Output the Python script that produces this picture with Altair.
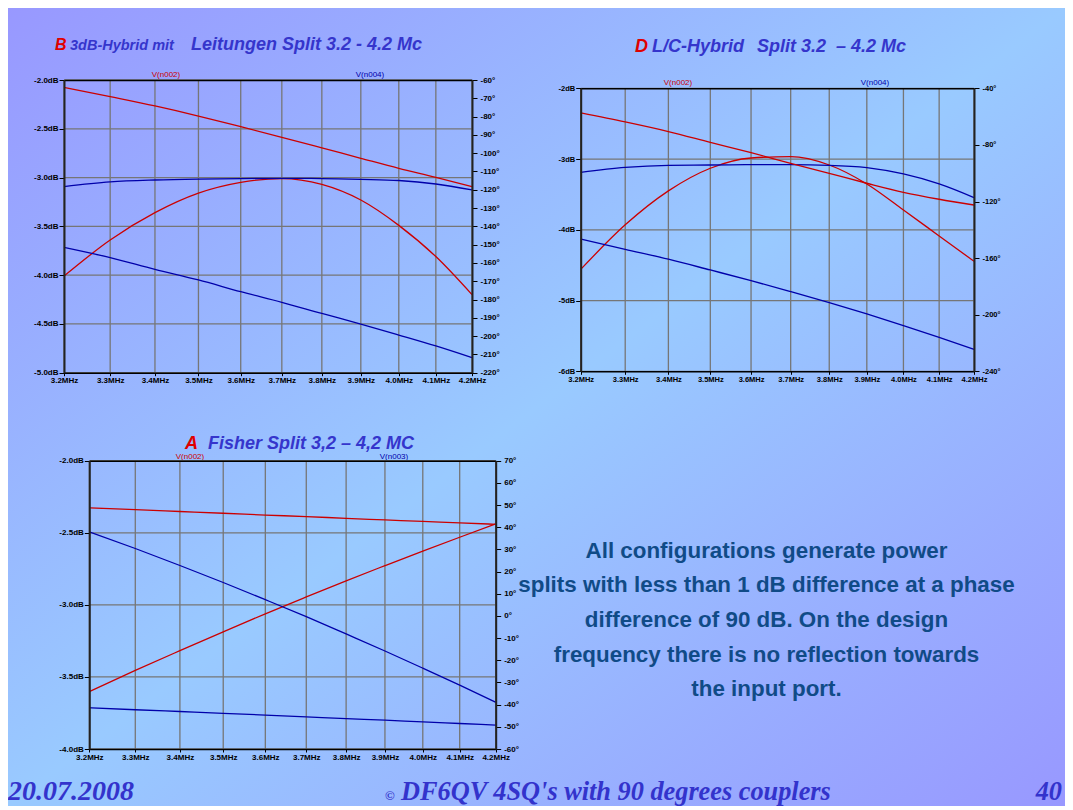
import altair as alt
import pandas as pd

W, H = 1057, 798

# ---------------- data ----------------
FREQ = [3.2, 3.3, 3.4, 3.5, 3.6, 3.7, 3.8, 3.9, 4.0, 4.1, 4.2]

# Panel B : 3dB-Hybrid mit Leitungen
B_N002_DB = [-4.01, -3.64, -3.36, -3.16, -3.05, -3.01, -3.07, -3.23, -3.49, -3.81, -4.20]
B_N004_DB = [-3.093, -3.045, -3.025, -3.015, -3.01, -3.008, -3.01, -3.018, -3.03, -3.066, -3.127]
B_N002_DEG = [-64.0, -69.1, -74.2, -79.7, -85.5, -91.3, -97.1, -102.8, -108.3, -113.2, -118.3]
B_N004_DEG = [-151.5, -157.1, -163.5, -169.3, -175.7, -181.5, -187.6, -193.4, -199.4, -205.4, -211.8]

# Panel D : L/C-Hybrid
D_N002_DB = [-4.56, -3.93, -3.45, -3.13, -2.985, -2.966, -3.084, -3.352, -3.72, -4.087, -4.445]
D_N004_DB = [-3.187, -3.117, -3.088, -3.084, -3.079, -3.079, -3.088, -3.121, -3.211, -3.352, -3.545]
D_N002_DEG = [-57.4, -63.8, -70.6, -78.2, -85.5, -93.0, -100.1, -107.1, -113.5, -118.4, -122.5]
D_N004_DEG = [-146.5, -153.8, -160.8, -168.4, -175.9, -183.7, -191.5, -199.5, -207.7, -216.0, -224.5]

# Panel A : Fisher
A_N002_DB = [-3.602, -3.455, -3.318, -3.187, -3.062, -2.945, -2.833, -2.728, -2.627, -2.531, -2.439]
A_N003_DB = [-2.493, -2.609, -2.727, -2.845, -2.964, -3.082, -3.202, -3.32, -3.439, -3.557, -3.676]
A_N002_DEG = [48.7, 47.9, 47.1, 46.3, 45.5, 44.8, 44.0, 43.3, 42.6, 42.0, 41.3]
A_N003_DEG = [-41.4, -42.3, -43.1, -43.9, -44.7, -45.5, -46.3, -47.0, -47.8, -48.5, -49.2]

B_DB_TICKS = [-2.0, -2.5, -3.0, -3.5, -4.0, -4.5, -5.0]
B_DEG_TICKS = list(range(-60, -221, -10))
D_DB_TICKS = [-2, -3, -4, -5, -6]
D_DEG_TICKS = list(range(-40, -241, -40))
A_DB_TICKS = [-2.0, -2.5, -3.0, -3.5, -4.0]
A_DEG_TICKS = list(range(70, -61, -10))

TITLE_B = ["B", "3dB-Hybrid mit", "Leitungen Split 3.2 - 4.2 Mc"]
TITLE_D = ["D", "L/C-Hybrid", "Split 3.2\u00a0 \u2013 4.2 Mc"]
TITLE_A = ["A", "Fisher Split 3,2 \u2013 4,2 MC"]
PARA = ["All configurations generate power",
        "splits with less than 1 dB difference at a phase",
        "difference of 90 dB. On the design",
        "frequency there is no reflection towards",
        "the input port."]
FOOTER = ["20.07.2008", "\u00a9", "DF6QV 4SQ's with 90 degrees couplers", "40"]

# ---------------- styling ----------------
FONT = "Liberation Sans"
SERIF = "Liberation Serif"
RED, BLUE = "#cc0000", "#0000aa"
TRED, TBLUE = "#e00000", "#3535cc"
GRID = "#767676"
ONE = pd.DataFrame({"k": [0]})

color_scale = alt.Scale(domain=["V(n002)", "V(n003)", "V(n004)"], range=[RED, BLUE, BLUE])


def long(series):
    rows = []
    for name, vals in series.items():
        for f, v in zip(FREQ, vals):
            rows.append({"f": f, "v": v, "s": name})
    return pd.DataFrame(rows)


def fmt(spec, suffix):
    return "replace(format(datum.value,'%s'),'\u2212','-')+'%s'" % (spec, suffix)


def panel(box, db_dom, db_ticks, db_fmt, deg_dom, deg_ticks, mag, ph, fs):
    x0, x1, yt, yb = box
    xs = alt.Scale(type="log", domain=[3.2, 4.2], range=[x0, x1], nice=False)
    sdb = alt.Scale(domain=db_dom, range=[yb, yt], nice=False, zero=False)
    sdeg = alt.Scale(domain=deg_dom, range=[yb, yt], nice=False, zero=False)
    lab = dict(labelFont=FONT, labelFontWeight="bold", labelFontSize=fs, labelColor="black",
               title=None, zindex=1, labelOverlap=False, labelFlush=False, grid=False)
    ax_bottom = alt.Axis(orient="bottom", offset=yb - H, values=FREQ,
                         labelExpr=fmt(".1f", "MHz"),
                         domainColor="black", domainWidth=1.6, tickColor="black",
                         tickSize=3, tickWidth=1, labelPadding=1, **lab)
    ax_top = alt.Axis(orient="top", offset=-yt, labels=False, ticks=False,
                      domainColor="black", domainWidth=1.6, grid=False, title=None, zindex=1)
    ax_left = alt.Axis(orient="left", offset=-x0, values=db_ticks,
                       labelExpr=fmt(db_fmt, "dB"),
                       domainColor="#222222", domainWidth=2, tickColor="black",
                       tickSize=5, tickWidth=1, labelPadding=1, **lab)
    ax_right = alt.Axis(orient="right", offset=x1 - W, values=deg_ticks,
                        labelExpr=fmt("d", "\u00b0"),
                        domainColor="#222222", domainWidth=2, tickColor="black",
                        tickSize=5, tickWidth=1, labelPadding=3, **lab)
    vgrid = alt.Chart(pd.DataFrame({"f": FREQ})).mark_rule(color=GRID, strokeWidth=1.3).encode(
        x=alt.X("f:Q", scale=xs, axis=None),
        y=alt.YDatum(db_dom[0], type="quantitative", scale=sdb, axis=None),
        y2=alt.Y2Datum(db_dom[1]),
    )
    hgrid = alt.Chart(pd.DataFrame({"v": db_ticks})).mark_rule(color=GRID, strokeWidth=1.3).encode(
        y=alt.Y("v:Q", scale=sdb, axis=None),
        x=alt.XDatum(3.2, type="quantitative", scale=xs, axis=None),
        x2=alt.X2Datum(4.2),
    )
    mag_c = alt.Chart(mag).mark_line(strokeWidth=1.3, interpolate="monotone").encode(
        x=alt.X("f:Q", scale=xs, axis=ax_bottom),
        y=alt.Y("v:Q", scale=sdb, axis=ax_left),
        color=alt.Color("s:N", scale=color_scale, legend=None),
    )
    ph_c = alt.Chart(ph).mark_line(strokeWidth=1.3, interpolate="monotone").encode(
        x=alt.X("f:Q", scale=xs, axis=ax_top),
        y=alt.Y("v:Q", scale=sdeg, axis=ax_right),
        color=alt.Color("s:N", scale=color_scale, legend=None),
    )
    return alt.layer(vgrid, hgrid, mag_c, ph_c).resolve_scale(y="independent").resolve_axis(
        x="independent", y="independent")


def txt(text, x, y, size, color, font=FONT, weight="bold", style="normal", align="left",
        baseline="alphabetic", **kw):
    return alt.Chart(ONE).mark_text(text=text, font=font, fontSize=size, color=color,
                                    fontWeight=weight, fontStyle=style, align=align,
                                    baseline=baseline, **kw).encode(
        x=alt.value(x), y=alt.value(y))


pB = panel((56, 464, 72, 364.7), [-5, -2], B_DB_TICKS, ".1f", [-220, -60], B_DEG_TICKS,
           long({"V(n002)": B_N002_DB, "V(n004)": B_N004_DB}),
           long({"V(n002)": B_N002_DEG, "V(n004)": B_N004_DEG}), 8)
pD = panel((572.7, 966, 80.3, 363.3), [-6, -2], D_DB_TICKS, ".0f", [-240, -40], D_DEG_TICKS,
           long({"V(n002)": D_N002_DB, "V(n004)": D_N004_DB}),
           long({"V(n002)": D_N002_DEG, "V(n004)": D_N004_DEG}), 7.5)
pA = panel((81.3, 487.7, 452.7, 741), [-4, -2], A_DB_TICKS, ".1f", [-60, 70], A_DEG_TICKS,
           long({"V(n002)": A_N002_DB, "V(n003)": A_N003_DB}),
           long({"V(n002)": A_N002_DEG, "V(n003)": A_N003_DEG}), 8)

grad = alt.LinearGradient(
    gradient="linear",
    stops=[alt.GradientStop(color="#9898ff", offset=0),
           alt.GradientStop(color="#99caff", offset=0.5),
           alt.GradientStop(color="#9898ff", offset=1)],
    x1=0, y1=0, x2=1, y2=1)
bg = alt.Chart(ONE).mark_rect(fill=grad, strokeWidth=0).encode(
    x=alt.value(0), x2=alt.value(W), y=alt.value(0), y2=alt.value(H))

texts = [
    txt(TITLE_B[0], 47, 42, 16, TRED, style="italic"),
    txt(TITLE_B[1], 62, 42, 14.5, TBLUE, style="italic"),
    txt(TITLE_B[2], 183, 42, 18, TBLUE, style="italic"),
    txt(TITLE_D[0], 627, 43.7, 18, TRED, style="italic"),
    txt(TITLE_D[1], 644, 43.7, 18, TBLUE, style="italic"),
    txt(TITLE_D[2], 749, 43.7, 18, TBLUE, style="italic"),
    txt(TITLE_A[0], 177, 441, 18, TRED, style="italic"),
    txt(TITLE_A[1], 200, 441, 18, TBLUE, style="italic"),
    txt("V(n002)", 158, 67, 8, RED, weight="normal", align="center", baseline="middle"),
    txt("V(n004)", 362, 67, 8, BLUE, weight="normal", align="center", baseline="middle"),
    txt("V(n002)", 670, 75, 8, RED, weight="normal", align="center", baseline="middle"),
    txt("V(n004)", 867, 75, 8, BLUE, weight="normal", align="center", baseline="middle"),
    txt("V(n002)", 182, 449, 8, RED, weight="normal", align="center", baseline="middle"),
    txt("V(n003)", 386, 449, 8, BLUE, weight="normal", align="center", baseline="middle"),
    txt(PARA, 758.5, 549.5, 22.4, "#104b87", align="center", lineHeight=34.7),
    txt(FOOTER[0], 0, 792, 28, "#3333cc", font=SERIF, style="italic"),
    txt(FOOTER[1], 377, 792, 13, "#3333cc", font=SERIF, style="italic"),
    txt(FOOTER[2], 393, 792, 26.3, "#3333cc", font=SERIF, style="italic"),
    txt(FOOTER[3], 1054, 792, 26.3, "#3333cc", font=SERIF, style="italic", align="right"),
]

chart = alt.layer(bg, *texts, pB, pD, pA).resolve_scale(
    x="independent", y="independent").resolve_axis(x="independent", y="independent").properties(
    width=W, height=H, autosize=alt.AutoSizeParams(type="none"), padding=0
).configure_view(strokeWidth=0)

chart.save("out.html", embed_options={"renderer": "svg", "actions": False})
